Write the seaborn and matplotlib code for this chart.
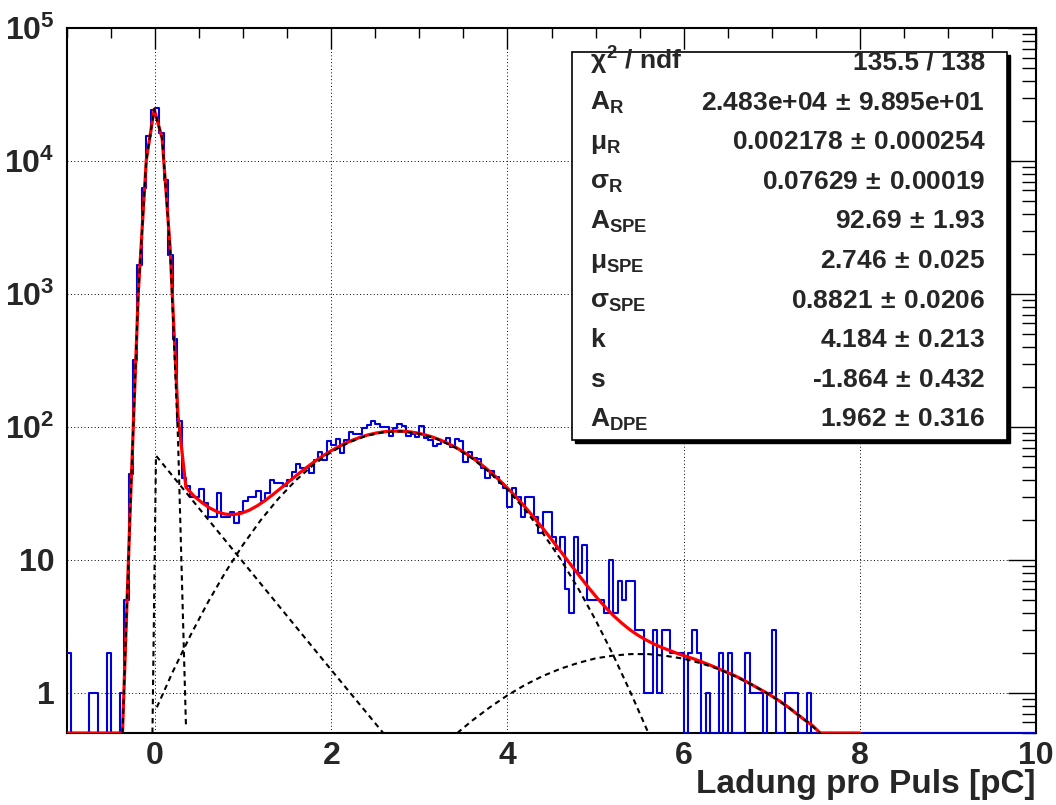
import numpy as np
import pandas as pd
import matplotlib
matplotlib.use("Agg")
import matplotlib.pyplot as plt
import seaborn as sns
from matplotlib.patches import Rectangle
from matplotlib.ticker import (FixedLocator, FixedFormatter, MultipleLocator,
                               LogLocator, NullFormatter)

# ================= Daten =================
X_MIN, X_MAX, BIN_W = -1.0, 10.0, 0.05   # 220 Bins a 0.05 pC
Y_MIN, Y_MAX = 0.5, 1e5

# Einträge pro Bin, Bin i beginnt bei -1 + 0.05*i
counts = [
    2, 0, 0, 0, 0, 1, 1, 0, 0, 2,
    0, 0, 1, 5, 44, 320, 1650, 6300, 15400, 24200,
    24900, 16150, 7200, 1970, 460, 111, 41, 36, 30, 30,
    34, 27, 21, 21, 32, 21, 21, 23, 19, 23,
    28, 30, 30, 33, 28, 32, 40, 38, 38, 36,
    40, 46, 53, 49, 49, 45, 56, 65, 56, 78,
    73, 81, 64, 80, 92, 88, 88, 98, 103, 111,
    106, 100, 100, 86, 98, 106, 102, 86, 88, 84,
    102, 83, 80, 72, 75, 78, 83, 71, 81, 78,
    55, 65, 58, 57, 49, 41, 47, 42, 38, 35,
    25, 35, 30, 21, 30, 30, 21, 16, 23, 23,
    15, 12, 15, 6, 4, 15, 8, 13, 5, 5,
    5, 5, 4, 10, 4, 7, 5, 7, 7, 3,
    3, 1, 1, 3, 1, 3, 3, 2, 2, 2,
    0, 2, 3, 2, 0, 1, 0, 0, 2, 0,
    2, 0, 0, 0, 2, 1, 1, 1, 0, 1,
    3, 0, 0, 1, 1, 1, 0, 0, 1, 0,
    0, 0, 0, 0, 0, 0, 0, 0, 0, 0,
    0, 0, 0, 0, 0, 0, 0, 0, 0, 0,
    0, 0, 0, 0, 0, 0, 0, 0, 0, 0,
    0, 0, 0, 0, 0, 0, 0, 0, 0, 0,
    0, 0, 0, 0, 0, 0, 0, 0, 0, 0,
]

# Gesamt-Fit (rot)
fit_x = [
    -1.00, -0.91, -0.82, -0.73, -0.64, -0.55, -0.46, -0.37, -0.28, -0.19,
    -0.10, -0.01, 0.08, 0.17, 0.26, 0.35, 0.44, 0.53, 0.62, 0.71,
    0.80, 0.89, 0.98, 1.07, 1.16, 1.25, 1.34, 1.43, 1.52, 1.61,
    1.70, 1.79, 1.88, 1.97, 2.06, 2.15, 2.24, 2.33, 2.42, 2.51,
    2.60, 2.69, 2.78, 2.87, 2.96, 3.05, 3.14, 3.23, 3.32, 3.41,
    3.50, 3.59, 3.68, 3.77, 3.86, 3.95, 4.04, 4.13, 4.22, 4.31,
    4.40, 4.49, 4.58, 4.67, 4.76, 4.85, 4.94, 5.03, 5.12, 5.21,
    5.30, 5.39, 5.48, 5.57, 5.66, 5.75, 5.84, 5.93, 6.02, 6.11,
    6.20, 6.29, 6.38, 6.47, 6.56, 6.65, 6.74, 6.83, 6.92, 7.01,
    7.10, 7.19, 7.28, 7.37, 7.46, 7.55, 7.64, 7.73, 7.82, 7.91,
    8.00,
]
fit_y = [
    0, 0, 0, 0, 0, 0, 0, 0.35, 26.8, 1039,
    10126, 24515, 14815, 2257, 122.1, 35.2, 30.3, 27.05, 24.6, 22.96,
    22.09, 21.93, 22.47, 23.69, 25.56, 28.04, 31.13, 34.77, 38.93, 43.53,
    48.49, 53.73, 59.12, 64.53, 69.83, 74.90, 79.58, 83.74, 87.35, 90.12,
    92.05, 93.07, 93.16, 92.30, 90.50, 87.85, 84.40, 80.26, 75.57, 70.42,
    64.96, 59.34, 53.67, 48.06, 42.64, 37.46, 32.64, 28.18, 24.13, 20.52,
    17.33, 14.56, 12.18, 10.17, 8.49, 7.11, 5.98, 5.07, 4.35, 3.78,
    3.34, 2.99, 2.72, 2.51, 2.34, 2.20, 2.09, 1.98, 1.89, 1.81,
    1.72, 1.63, 1.54, 1.45, 1.37, 1.28, 1.19, 1.10, 1.02, 0.94,
    0.86, 0.78, 0.70, 0.63, 0.57, 0.50, 0.45, 0, 0, 0,
    0,
]

# Einzelkomponenten (schwarz gestrichelt)
ped_x = [-0.37, -0.28, -0.19, -0.10, -0.01, 0.08, 0.17, 0.26, 0.35]
ped_y = [0.17, 26.5, 1039, 10126, 24515, 14761, 2210, 82.2, 0.58]

exp_x = [-0.03, 0.01, 0.5, 1.0, 1.5, 2.0, 2.59]
exp_y = [0.0, 60.9, 24.4, 9.61, 3.78, 1.49, 0.50]

spe_x = [0.02, 0.2, 0.4, 0.6, 0.8, 1.0, 1.2, 1.4, 1.6, 1.8,
         2.0, 2.2, 2.4, 2.6, 2.8, 3.0, 3.2, 3.4, 3.6, 3.8,
         4.0, 4.2, 4.4, 4.6, 4.8, 5.0, 5.2, 5.4, 5.6]
spe_y = [0.78, 1.44, 2.70, 4.81, 8.13, 13.07, 19.96, 28.94, 39.86, 52.15,
         64.83, 76.53, 85.83, 91.43, 92.51, 88.93, 81.19, 70.42, 58.01, 45.39,
         33.74, 23.83, 15.98, 10.19, 6.16, 3.54, 1.93, 1.00, 0.49]

dpe_x = [3.43, 3.6, 3.8, 4.0, 4.2, 4.4, 4.6, 4.8, 5.0, 5.2, 5.4,
         5.6, 5.8, 6.0, 6.2, 6.4, 6.6, 6.8, 7.0, 7.2, 7.4, 7.55]
dpe_y = [0.50, 0.62, 0.78, 0.96, 1.15, 1.34, 1.52, 1.68, 1.82, 1.91, 1.96,
         1.96, 1.90, 1.81, 1.67, 1.51, 1.32, 1.13, 0.95, 0.77, 0.61, 0.50]

# Statistik-Box
stat_names = [r'$\chi^{\mathbf{2}}$ / ndf', r'$\mathbf{A}_{\mathbf{R}}$',
              r'$\mu_{\mathbf{R}}$', r'$\sigma_{\mathbf{R}}$',
              r'$\mathbf{A}_{\mathbf{SPE}}$', r'$\mu_{\mathbf{SPE}}$',
              r'$\sigma_{\mathbf{SPE}}$', 'k', 's', r'$\mathbf{A}_{\mathbf{DPE}}$']
stat_values = ['135.5 / 138',
               r'2.483e+04$\,\pm\,$9.895e+01',
               r'0.002178$\,\pm\,$0.000254',
               r'0.07629$\,\pm\,$0.00019',
               r'92.69$\,\pm\,$1.93',
               r'2.746$\,\pm\,$0.025',
               r'0.8821$\,\pm\,$0.0206',
               r'4.184$\,\pm\,$0.213',
               r'-1.864$\,\pm\,$0.432',
               r'1.962$\,\pm\,$0.316']

x_ticks = [0, 2, 4, 6, 8, 10]
y_ticks = [1, 10, 100, 1000, 1e4, 1e5]
y_tick_labels = ['1', '10', r'$\mathbf{10^{2}}$', r'$\mathbf{10^{3}}$',
                 r'$\mathbf{10^{4}}$', r'$\mathbf{10^{5}}$']
X_LABEL = 'Ladung pro Puls [pC]'

BLUE = '#0000dd'
# ========================================


def plot_ladung():
    sns.set_style('white')
    plt.rcParams['font.family'] = ['Liberation Sans', 'DejaVu Sans']
    plt.rcParams['font.weight'] = 'bold'
    plt.rcParams['mathtext.fontset'] = 'custom'
    plt.rcParams['mathtext.rm'] = 'Liberation Sans:bold'
    plt.rcParams['mathtext.bf'] = 'Liberation Sans:bold'
    plt.rcParams['mathtext.sf'] = 'Liberation Sans:bold'
    plt.rcParams['mathtext.it'] = 'Liberation Sans'

    fig = plt.figure(figsize=(10.56, 8.05), dpi=100)
    ax = fig.add_axes([67 / 1056, 72 / 805, 969 / 1056, 705 / 805])

    # Histogramm, leere Bins wie bei ROOT auf dem Rahmen
    n_bins = len(counts)
    lower = X_MIN + BIN_W * np.arange(n_bins)
    hist_df = pd.DataFrame({
        'ladung': lower + BIN_W / 2,
        'eintraege': np.clip(np.array(counts, dtype=float), Y_MIN, None),
    })
    sns.histplot(data=hist_df, x='ladung', weights='eintraege',
                 binwidth=BIN_W, binrange=(X_MIN, X_MAX), element='step',
                 fill=False, color=BLUE, linewidth=1.5, ax=ax, zorder=3)

    # Fit
    sns.lineplot(x=fit_x, y=np.clip(fit_y, Y_MIN, None), color='red',
                 linewidth=2.3, estimator=None, sort=False, ax=ax, zorder=4)
    for cx, cy in [(ped_x, ped_y), (exp_x, exp_y), (spe_x, spe_y), (dpe_x, dpe_y)]:
        sns.lineplot(x=cx, y=np.clip(cy, Y_MIN, None), color='black',
                     linewidth=1.5, linestyle=(0, (2.6, 2.0)),
                     estimator=None, sort=False, ax=ax, zorder=5)

    ax.set_yscale('log')
    ax.set_xlim(X_MIN, X_MAX)
    ax.set_ylim(Y_MIN, Y_MAX)

    ax.xaxis.set_major_locator(FixedLocator(x_ticks))
    ax.xaxis.set_major_formatter(FixedFormatter([str(t) for t in x_ticks]))
    ax.xaxis.set_minor_locator(MultipleLocator(0.5))
    ax.yaxis.set_major_locator(FixedLocator(y_ticks))
    ax.yaxis.set_major_formatter(FixedFormatter(y_tick_labels))
    ax.yaxis.set_minor_locator(LogLocator(base=10, subs=np.arange(2, 10), numticks=50))
    ax.yaxis.set_minor_formatter(NullFormatter())

    ax.tick_params(which='both', direction='in', top=True, right=True,
                   color='black', width=1)
    ax.tick_params(axis='x', which='major', length=15, labelsize=23, pad=6)
    ax.tick_params(axis='x', which='minor', length=7.5)
    ax.tick_params(axis='y', which='major', length=20, labelsize=23, pad=9)
    ax.tick_params(axis='y', which='minor', length=10)

    ax.grid(True, which='major', color='black', linestyle=(0, (1, 2.5)), linewidth=0.7)
    ax.set_axisbelow(True)
    for sp in ax.spines.values():
        sp.set_color('black')
        sp.set_linewidth(1.5)

    ax.set_ylabel('')
    ax.set_xlabel(X_LABEL, loc='right', fontsize=24, fontweight='bold', labelpad=-2)

    # Statistik-Box mit Schatten
    bx0, bx1, by0, by1 = 0.521, 0.970, 0.4156, 0.966
    ax.add_patch(Rectangle((bx0 + 0.003, by0 - 0.004), bx1 - bx0, by1 - by0,
                           transform=ax.transAxes, facecolor='black',
                           edgecolor='black', zorder=9))
    ax.add_patch(Rectangle((bx0, by0), bx1 - bx0, by1 - by0,
                           transform=ax.transAxes, facecolor='white',
                           edgecolor='black', linewidth=1.2, zorder=10))
    for i, (name, val) in enumerate(zip(stat_names, stat_values)):
        yb = (733 - (70 + 39.6 * i)) / 705
        ax.text(0.5397, yb, name, ha='left', va='baseline', fontsize=19,
                fontweight='bold', transform=ax.transAxes, zorder=11)
        ax.text(0.9474, yb, val, ha='right', va='baseline', fontsize=19,
                fontweight='bold', transform=ax.transAxes, zorder=11)

    fig.savefig('out.png', dpi=100)


if __name__ == "__main__":
    plot_ladung()
